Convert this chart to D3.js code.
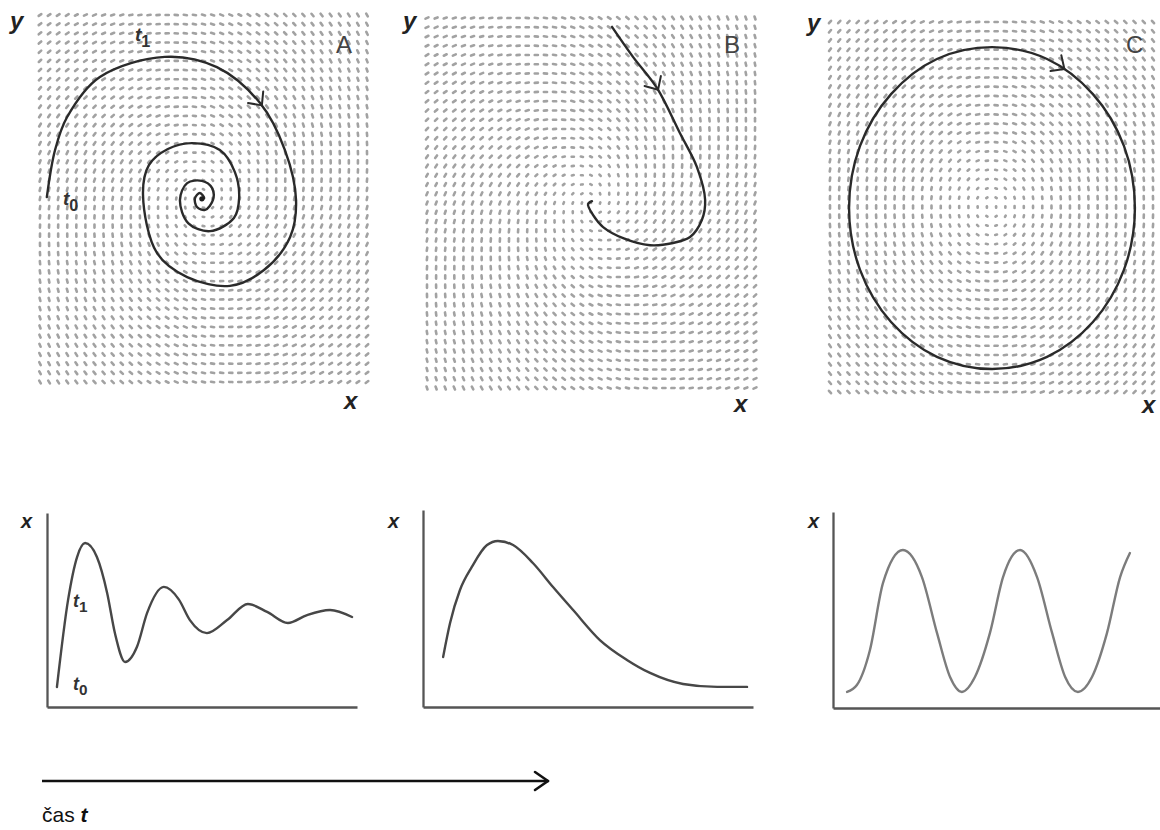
<!DOCTYPE html>
<html>
<head>
<meta charset="utf-8">
<script src="https://cdn.jsdelivr.net/npm/d3@7"></script>
<style>
  body { margin: 0; background: #fff; }
  svg { display: block; }
  text { font-family: "Liberation Sans", Arial, sans-serif; }
</style>
</head>
<body>
<svg id="chart" width="1160" height="830"></svg>
<script>
// ---- Phase-plane trajectories, (x, y) in units 0–100 on each axis ----
const trajA = [[2.1,50.4],[4.6,63.2],[8.3,72.2],[18.3,83.1],[38.2,88.6],[54.1,85.8],[67.3,76.0],[74.9,63.2],
  [78.3,49.6],[76.5,39.5],[68.5,30.5],[58.1,26.2],[45.0,28.6],[35.8,35.1],[31.5,51.0],[33.3,59.1],[39.1,63.5],
  [46.5,65.1],[55.0,63.2],[59.6,57.2],[60.9,50.1],[59.3,44.7],[52.0,41.1],[45.3,43.3],[42.8,49.6],[45.0,54.2],
  [49.5,54.8],[52.6,52.9],[52.9,49.6],[50.5,46.9],[48.0,47.7],[47.4,50.1],[48.9,51.5],[50.2,50.1],[49.5,49.9]];
const trajB = [[56.4,97.6],[62.8,89.5],[70.1,81.1],[77.1,68.9],[82.3,59.7],[84.8,50.8],[83.8,45.4],[80.2,40.8],
  [75.0,39.2],[68.0,38.6],[59.8,40.5],[53.7,43.5],[50.6,46.8],[49.1,49.7],[50.3,50.5]];
const trajC = [[50.2,93.2],[67.2,90.0],[81.4,80.5],[91.0,66.5],[94.4,49.7],[91.0,33.0],[81.4,18.9],[67.2,9.5],
  [50.2,6.2],[33.1,9.5],[18.9,18.9],[9.3,33.0],[5.9,49.7],[9.3,66.5],[18.9,80.5],[33.1,90.0]];

// where the direction chevron sits on each trajectory
const arrowA = [68.2, 75.5];
const arrowB = [71.0, 80.8];
const arrowC = [72.8, 87.8];

// fixed point of each system and damping of its direction field
const centers = [[49.5, 50], [50, 50], [50, 50]];
const damping = [0.22, 0.45, 0];
const panelNames = ["A", "B", "C"];

// ---- Time series x(t), t and x in units 0–100 ----
const seriesA_t = [3.2,6.8,9.7,12.3,16.1,19.4,21.9,25.2,29.0,32.3,37.7,42.5,46.1,51.6,58.1,64.8,71.0,77.7,83.9,91.3,98.4];
const seriesA_x = [10.3,55.2,77.3,84.5,77.3,58.8,38.1,23.2,30.9,48.5,61.9,55.5,44.8,38.1,44.8,53.1,49.0,43.3,47.4,50.0,46.4];
const seriesB_t = [6.1,8.2,11.2,14.8,19.4,22.7,27.3,33.3,39.4,45.5,53.6,61.8,68.8,78.8,89.1,98.2];
const seriesB_x = [25.4,42.6,59.4,71.1,82.2,84.3,82.2,73.1,60.9,49.2,34.0,23.9,17.3,11.7,10.2,10.2];
const seriesC_t = [4.3,7.3,11.3,15.3,21.4,27.2,31.8,35.8,39.4,43.4,48.0,52.0,57.2,62.4,67.0,71.0,74.9,79.2,83.8,87.8,90.8];
const seriesC_x = [8.2,11.7,29.6,63.8,80.6,66.8,38.3,15.8,8.2,15.8,38.3,66.8,80.6,66.8,38.3,15.8,8.2,15.8,38.3,66.8,79.1];

const svg = d3.select("#chart");
svg.append("rect").attr("width", 1160).attr("height", 830).attr("fill", "#fff");

const defs = svg.append("defs");
defs.append("filter").attr("id", "soft").attr("x", "-5%").attr("y", "-5%").attr("width", "110%").attr("height", "110%")
  .append("feGaussianBlur").attr("stdDeviation", 0.7);
defs.append("filter").attr("id", "softer")
  .append("feGaussianBlur").attr("stdDeviation", 0.35);

// ---------------- phase-plane panels ----------------
const phasePanels = [
  { box: [40, 15, 367, 382], cols: 37, rows: 41, traj: trajA, closed: false, arrow: arrowA, dot: true,
    yLab: [10, 29], xLab: [344, 409], name: [336, 53] },
  { box: [427, 18, 755, 388], cols: 37, rows: 41, traj: trajB, closed: false, arrow: arrowB, dot: false,
    yLab: [403, 29], xLab: [734, 412], name: [724, 53] },
  { box: [830, 22, 1153, 392], cols: 36, rows: 41, traj: trajC, closed: true, arrow: arrowC, dot: false,
    yLab: [807, 31], xLab: [1142, 413], name: [1126, 53] }
];

phasePanels.forEach((p, i) => {
  const [x0, y0, x1, y1] = p.box;
  const sx = d3.scaleLinear().domain([0, 100]).range([x0, x1]);
  const sy = d3.scaleLinear().domain([0, 100]).range([y1, y0]);
  const g = svg.append("g");

  // direction field
  const c = centers[i], k = damping[i];
  const grid = [];
  d3.range(p.cols).forEach(ci => d3.range(p.rows).forEach(ri => {
    grid.push([ci / (p.cols - 1) * 100, ri / (p.rows - 1) * 100]);
  }));
  const field = g.append("g").attr("filter", "url(#soft)");
  grid.forEach(pt => {
    const dx = pt[0] - c[0], dy = pt[1] - c[1];
    const v = [dy - k * dx, -dx - k * dy];
    const px = sx(pt[0]), py = sy(pt[1]);
    const qx = sx(pt[0] + v[0] * 0.01), qy = sy(pt[1] + v[1] * 0.01);
    let ux = qx - px, uy = qy - py;
    const n = Math.hypot(ux, uy) || 1;
    ux /= n; uy /= n;
    const r = Math.hypot(dx, dy);
    const half = 0.6 + 1.0 * Math.min(1, r / 25);
    field.append("line")
      .attr("x1", px - ux * half).attr("y1", py - uy * half)
      .attr("x2", px + ux * half).attr("y2", py + uy * half)
      .attr("stroke", "#a2a2a2").attr("stroke-width", 2.6).attr("stroke-linecap", "round");
  });

  // trajectory
  const line = d3.line().x(d => sx(d[0])).y(d => sy(d[1]))
    .curve(p.closed ? d3.curveCatmullRomClosed.alpha(0.5) : d3.curveCatmullRom.alpha(0.5));
  const path = g.append("path").datum(p.traj).attr("d", line)
    .attr("fill", "none").attr("stroke", "#2b2b2b").attr("stroke-width", 2.4)
    .attr("stroke-linecap", "round").attr("filter", "url(#softer)");

  if (p.dot) {
    const last = p.traj[p.traj.length - 1];
    g.append("circle").attr("cx", sx(last[0])).attr("cy", sy(last[1])).attr("r", 2.6).attr("fill", "#1e1e1e");
  }

  // direction chevron along the trajectory
  const node = path.node();
  const total = node.getTotalLength();
  const tx = sx(p.arrow[0]), ty = sy(p.arrow[1]);
  let best = 0, bestD = Infinity;
  for (let L = 0; L <= total; L += 1) {
    const q = node.getPointAtLength(L);
    const d = (q.x - tx) ** 2 + (q.y - ty) ** 2;
    if (d < bestD) { bestD = d; best = L; }
  }
  const a = node.getPointAtLength(Math.max(0, best - 3));
  const b = node.getPointAtLength(Math.min(total, best + 3));
  const tip = node.getPointAtLength(best);
  const ang = Math.atan2(b.y - a.y, b.x - a.x);
  [ang + Math.PI - 0.75, ang + Math.PI + 0.75].forEach(t => {
    g.append("line").attr("x1", tip.x).attr("y1", tip.y)
      .attr("x2", tip.x + 14 * Math.cos(t)).attr("y2", tip.y + 14 * Math.sin(t))
      .attr("stroke", "#2b2b2b").attr("stroke-width", 2).attr("stroke-linecap", "round");
  });

  // labels
  g.append("text").attr("x", p.yLab[0]).attr("y", p.yLab[1]).text("y")
    .attr("font-size", 24).attr("font-weight", "bold").attr("font-style", "italic").attr("fill", "#222");
  g.append("text").attr("x", p.xLab[0]).attr("y", p.xLab[1]).text("x")
    .attr("font-size", 24).attr("font-weight", "bold").attr("font-style", "italic").attr("fill", "#222");
  g.append("text").attr("x", p.name[0]).attr("y", p.name[1]).text(panelNames[i])
    .attr("font-size", 24).attr("fill", "#444");
});

// time labels on the spiral
function tLabel(x, y, sub, size) {
  const t = svg.append("text").attr("x", x).attr("y", y)
    .attr("font-size", size).attr("font-weight", "bold").attr("font-style", "italic").attr("fill", "#333");
  t.append("tspan").text("t");
  t.append("tspan").text(sub).attr("dy", size * 0.3).attr("font-size", size * 0.85).attr("font-style", "normal");
}
tLabel(135, 41, "1", 19);
tLabel(63, 205, "0", 19);

// ---------------- time-series panels ----------------
const timePanels = [
  { origin: [47, 707], xEnd: 357, yTop: 513, t: seriesA_t, x: seriesA_x, color: "#474747", lab: [21, 528] },
  { origin: [423, 707], xEnd: 753, yTop: 510, t: seriesB_t, x: seriesB_x, color: "#474747", lab: [388, 528] },
  { origin: [833, 708], xEnd: 1160, yTop: 512, t: seriesC_t, x: seriesC_x, color: "#7c7c7c", lab: [808, 528] }
];

timePanels.forEach(p => {
  const st = d3.scaleLinear().domain([0, 100]).range([p.origin[0], p.xEnd]);
  const sxv = d3.scaleLinear().domain([0, 100]).range([p.origin[1], p.yTop]);
  const g = svg.append("g");

  const axX = g.append("g").attr("transform", `translate(0,${p.origin[1]})`)
    .call(d3.axisBottom(st).ticks(0).tickSizeOuter(0));
  const axY = g.append("g").attr("transform", `translate(${p.origin[0]},0)`)
    .call(d3.axisLeft(sxv).ticks(0).tickSizeOuter(0));
  [axX, axY].forEach(ax => ax.select(".domain").attr("stroke", "#555").attr("stroke-width", 2.3));

  const pts = p.t.map((t, j) => [t, p.x[j]]);
  g.append("path").datum(pts)
    .attr("d", d3.line().x(d => st(d[0])).y(d => sxv(d[1])).curve(d3.curveMonotoneX))
    .attr("fill", "none").attr("stroke", p.color).attr("stroke-width", 2.4)
    .attr("stroke-linecap", "round").attr("filter", "url(#softer)");

  g.append("text").attr("x", p.lab[0]).attr("y", p.lab[1]).text("x")
    .attr("font-size", 20).attr("font-weight", "bold").attr("font-style", "italic").attr("fill", "#222");
});

tLabel(73, 607, "1", 18);
tLabel(73, 690, "0", 18);

// ---------------- time arrow ----------------
const ta = svg.append("g");
const tScale = d3.scaleLinear().domain([0, 1]).range([42, 548]);
ta.append("line").attr("x1", tScale(0)).attr("y1", 781).attr("x2", tScale(1)).attr("y2", 781)
  .attr("stroke", "#111").attr("stroke-width", 2.6);
[-1, 1].forEach(s => {
  ta.append("line").attr("x1", tScale(1)).attr("y1", 781)
    .attr("x2", tScale(1) - 13).attr("y2", 781 + s * 9)
    .attr("stroke", "#111").attr("stroke-width", 2.6).attr("stroke-linecap", "round");
});
const cap = ta.append("text").attr("x", 42).attr("y", 822).attr("font-size", 21).attr("fill", "#111");
cap.append("tspan").text("čas ");
cap.append("tspan").text("t").attr("font-weight", "bold").attr("font-style", "italic");
</script>
</body>
</html>
